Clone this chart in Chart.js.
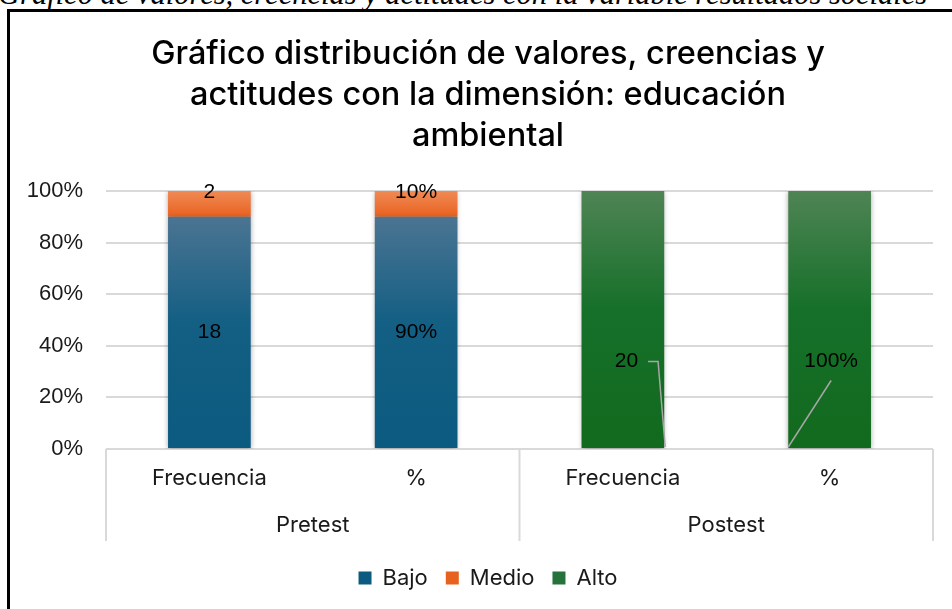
<!DOCTYPE html>
<html><head><meta charset="utf-8">
<script src="https://cdn.jsdelivr.net/npm/chart.js@4"></script>
<style>
html,body{margin:0;padding:0;background:#fff;overflow:hidden;width:952px;height:609px;}
#cap{position:absolute;left:-2px;top:-22px;font:italic 30.5px/33px "Liberation Serif";white-space:nowrap;color:#000;}
#frame{position:absolute;left:7px;top:9px;width:1000px;height:700px;border:3px solid #000;box-sizing:border-box;}
#wrap{position:absolute;left:10px;top:12px;width:956px;height:620px;}
</style></head>
<body>
<div id="cap">Gráfico de valores, creencias y actitudes con la variable resultados sociales</div>
<div id="frame"></div>
<div id="wrap"><canvas id="c" width="956" height="620"></canvas></div>
<script>
// ---- data ----
const subCategories = ['Frecuencia', '%', 'Frecuencia', '%'];
const groups = ['Pretest', 'Postest'];
const seriesNames = ['Bajo', 'Medio', 'Alto'];
const bajo = [18, 90, 0, 0];
const medio = [2, 10, 0, 0];
const alto = [0, 0, 20, 100];
const yTickValues = [0, 20, 40, 60, 80, 100];
const titleLines = ['Gráfico distribución de valores, creencias y', 'actitudes con la dimensión: educación', 'ambiental'];

// ---- styles ----
const rawSeries = [bajo, medio, alto];
const totals = subCategories.map((_, i) => rawSeries.reduce((s, a) => s + a[i], 0));
const pctSeries = rawSeries.map(a => a.map((v, i) => v / totals[i] * 100));
const gradStops = [
  [[0, '#4b7492'], [0.45, '#145f84'], [1, '#0b5a7f']],
  [[0, '#f08a55'], [1, '#e8621f']],
  [[0, '#4f8455'], [0.45, '#17702a'], [1, '#116a1d']]
];
const solid = ['#1a6186', '#ec7130', '#25733a'];

function bg(di) {
  return (ctx) => {
    if (ctx.type !== 'data') return solid[di];
    const chart = ctx.chart, y = chart.scales.y;
    if (!y || !chart.chartArea) return solid[di];
    const i = ctx.dataIndex;
    let bottom = 0;
    for (let k = 0; k < di; k++) bottom += pctSeries[k][i];
    const top = bottom + pctSeries[di][i];
    const yTop = y.getPixelForValue(top), yBot = y.getPixelForValue(bottom);
    if (!(yBot - yTop > 0.5)) return solid[di];
    const g = chart.ctx.createLinearGradient(0, yTop, 0, yBot);
    gradStops[di].forEach(s => g.addColorStop(s[0], s[1]));
    return g;
  };
}

const shadowPlugin = {
  id: 'barShadow',
  beforeDatasetsDraw(chart) {
    const c = chart.ctx; c.save();
    c.shadowColor = 'rgba(0,0,0,0.35)'; c.shadowBlur = 5; c.shadowOffsetX = 0; c.shadowOffsetY = 1;
  },
  afterDatasetsDraw(chart) { chart.ctx.restore(); }
};

const labelPlugin = {
  id: 'valueLabels',
  afterDatasetsDraw(chart) {
    const c = chart.ctx;
    c.save();
    c.font = '21px "Liberation Sans", Arial, sans-serif';
    c.fillStyle = '#000';
    c.textAlign = 'center'; c.textBaseline = 'middle';
    chart.data.datasets.forEach((ds, di) => {
      const meta = chart.getDatasetMeta(di);
      meta.data.forEach((el, i) => {
        const v = rawSeries[di][i];
        if (!v) return;
        const txt = v + (subCategories[i] === '%' ? '%' : '');
        let x = el.x, y = (el.y + el.base) / 2;
        if (di === 1) y = el.y + 1;
        if (di === 2) {
          y += 42;
          const w = c.measureText(txt).width;
          c.strokeStyle = '#a6a6a6'; c.lineWidth = 1.5;
          c.beginPath();
          if (subCategories[i] === '%') {
            x = el.x + 1.5;
            c.moveTo(x, y + 19); c.lineTo(el.x - el.width / 2, el.base - 1);
          } else {
            x = el.x + 3.5;
            c.moveTo(x + w / 2 + 10, y); c.lineTo(x + w / 2 + 20, y); c.lineTo(el.x + el.width / 2 + 1, el.base - 1);
          }
          c.stroke();
        }
        c.fillText(txt, x, y);
      });
    });
    c.restore();
  }
};

const groupLinesPlugin = {
  id: 'groupLines',
  afterDraw(chart) {
    const x = chart.scales.x, x2 = chart.scales.x2, c = chart.ctx;
    const y0 = x.top, y1 = x2.top + 40;
    const xs = [x.left, (x.left + x.right) / 2, x.right];
    c.save();
    c.strokeStyle = '#d9d9d9'; c.lineWidth = 2;
    c.beginPath();
    xs.forEach(px => { c.moveTo(px, y0); c.lineTo(px, y1); });
    c.stroke();
    c.restore();
  }
};

new Chart(document.getElementById('c'), {
  type: 'bar',
  data: {
    labels: subCategories,
    datasets: seriesNames.map((n, di) => ({
      label: n,
      data: pctSeries[di],
      backgroundColor: bg(di),
      borderWidth: 0,
      categoryPercentage: 1,
      barPercentage: 0.4
    }))
  },
  options: {
    responsive: false,
    devicePixelRatio: 1,
    animation: false,
    layout: { padding: { left: 0, right: 0, top: 0, bottom: 33 } },
    scales: {
      x: {
        stacked: true,
        grid: { display: false, drawTicks: false },
        border: { display: false },
        ticks: { padding: 16, color: '#1a1a1a', font: { family: 'Inter', size: 22 }, maxRotation: 0 },
        afterFit: s => { s.height = 52; }
      },
      x2: {
        type: 'category',
        position: 'bottom',
        labels: groups,
        offset: true,
        grid: { display: false, drawTicks: false },
        border: { display: false },
        ticks: { padding: 11, color: '#1a1a1a', font: { family: 'Inter', size: 22 }, maxRotation: 0 },
        afterFit: s => { s.height = 48; }
      },
      y: {
        stacked: true,
        min: 0, max: 100,
        afterBuildTicks: s => { s.ticks = yTickValues.map(v => ({ value: v })); },
        grid: { color: '#d9d9d9', lineWidth: 2, drawTicks: false },
        border: { display: false },
        ticks: { padding: 23, color: '#1a1a1a', font: { family: 'Liberation Sans', size: 22 }, callback: v => v + '%' },
        afterFit: s => { s.width = 96; }
      },
      yR: {
        type: 'linear',
        position: 'right',
        display: true,
        grid: { display: false, drawTicks: false },
        border: { display: false },
        ticks: { display: false },
        afterFit: s => { s.width = 33; }
      }
    },
    plugins: {
      title: {
        display: true,
        text: titleLines,
        color: '#000',
        font: { family: 'Inter', size: 32.5, weight: '500', lineHeight: '41px' },
        padding: { top: 22, bottom: 34 }
      },
      legend: {
        position: 'bottom',
        labels: { boxWidth: 13, boxHeight: 13, padding: 18, color: '#1a1a1a', font: { family: 'Inter', size: 22 } }
      },
      tooltip: { enabled: false }
    }
  },
  plugins: [shadowPlugin, labelPlugin, groupLinesPlugin]
});
</script>
</body></html>
